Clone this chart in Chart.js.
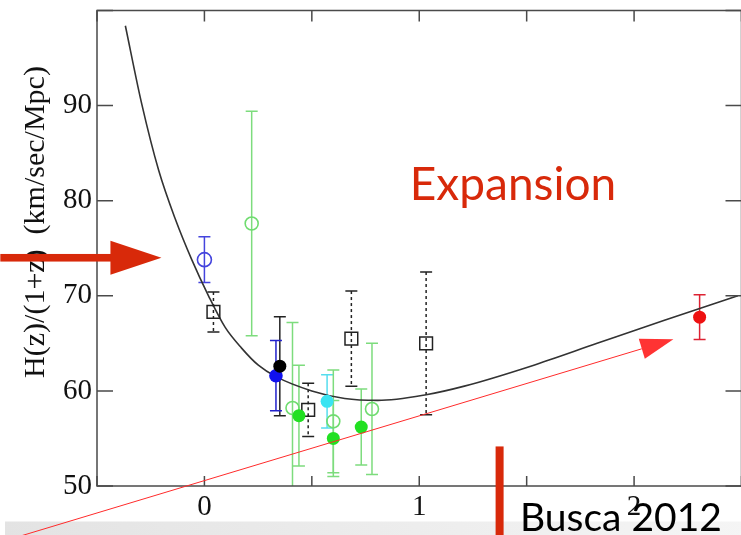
<!DOCTYPE html>
<html>
<head>
<meta charset="utf-8">
<script src="https://cdn.jsdelivr.net/npm/chart.js@4.4.0/dist/chart.umd.min.js"></script>
<style>
html, body { margin: 0; padding: 0; overflow: hidden; background: #fff; }
#wrap { width: 741px; height: 535px; overflow: hidden; }
</style>
</head>
<body>
<div id="wrap"><canvas id="hubbleChart" width="752" height="535"></canvas></div>
<script>
// Model curve H(z)/(1+z)
const curveZ = [-0.368, -0.291, -0.213, -0.136, -0.059, 0.019, 0.096, 0.173, 0.251, 0.333, 0.5, 0.653, 0.807, 1.032, 1.21, 1.519, 1.828, 2.138, 2.483];
const curveH = [98.4, 90.1, 83.2, 78.1, 73.8, 70.0, 66.7, 64.5, 62.7, 61.5, 60.0, 59.2, 59.0, 59.6, 60.5, 62.6, 65.0, 67.4, 70.0];

// Measurements: redshift, H(z)/(1+z), 1-sigma error
const openBlueZ = [0.0];
const openBlueH = [73.8];
const openBlueErr = [2.4];

const squareZ = [0.042, 0.483, 0.684, 1.032];
const squareH = [68.3, 58.0, 65.5, 65.0];
const squareErr = [2.1, 2.8, 5.0, 7.5];

const openGreenZ = [0.22, 0.41, 0.60, 0.78];
const openGreenH = [77.6, 58.2, 56.8, 58.1];
const openGreenErr = [11.8, 9.0, 5.4, 6.9];

const filledGreenZ = [0.44, 0.60, 0.73];
const filledGreenH = [57.4, 55.0, 56.2];
const filledGreenErr = [5.3, 4.0, 4.0];

const filledBlueZ = [0.333];
const filledBlueH = [61.6];
const filledBlueErr = [3.7];

const filledBlackZ = [0.351];
const filledBlackH = [62.6];
const filledBlackErr = [5.2];

const cyanZ = [0.571];
const cyanH = [58.9];
const cyanErr = [2.8];

const redZ = [2.305];
const redH = [67.75];
const redErr = [2.35];

// Axis ticks
const xTickStep = 0.5;
const yTicks = [50, 60, 70, 80, 90, 100];

function toPoints(zs, hs) {
    return zs.map((z, i) => ({ x: z, y: hs[i] }));
}

const serif = 'Liberation Serif';
const slideRed = '#d8290a';

// error bars drawn under the points, clipped to the plot
const errorBarPlugin = {
    id: 'errorBars',
    beforeDatasetsDraw(chart) {
        const { ctx, chartArea, scales: { x, y } } = chart;
        ctx.save();
        ctx.beginPath();
        ctx.rect(chartArea.left, chartArea.top, chartArea.right - chartArea.left, chartArea.bottom - chartArea.top);
        ctx.clip();
        chart.data.datasets.forEach(ds => {
            if (!ds.errors) return;
            ctx.strokeStyle = ds.errorColor;
            ctx.lineWidth = 1.5;
            ds.data.forEach((p, i) => {
                const px = x.getPixelForValue(p.x);
                const top = y.getPixelForValue(p.y + ds.errors[i]);
                const bot = y.getPixelForValue(p.y - ds.errors[i]);
                ctx.setLineDash(ds.errorDash || []);
                ctx.beginPath();
                ctx.moveTo(px, top);
                ctx.lineTo(px, bot);
                ctx.stroke();
                ctx.setLineDash([]);
                ctx.beginPath();
                ctx.moveTo(px - 6, top); ctx.lineTo(px + 6, top);
                ctx.moveTo(px - 6, bot); ctx.lineTo(px + 6, bot);
                ctx.stroke();
            });
        });
        ctx.restore();
    }
};

// frame with inward ticks on all four sides
const framePlugin = {
    id: 'frame',
    afterDatasetsDraw(chart) {
        const { ctx, chartArea: a, scales: { x, y } } = chart;
        ctx.save();
        ctx.strokeStyle = '#4a4a4a';
        ctx.lineWidth = 1.5;
        ctx.strokeRect(a.left, a.top, a.right - a.left, a.bottom - a.top);
        ctx.beginPath();
        x.ticks.forEach(t => {
            const px = x.getPixelForValue(t.value);
            ctx.moveTo(px, a.bottom); ctx.lineTo(px, a.bottom - 10);
            ctx.moveTo(px, a.top); ctx.lineTo(px, a.top + 11);
        });
        y.ticks.forEach(t => {
            const py = y.getPixelForValue(t.value);
            ctx.moveTo(a.left, py); ctx.lineTo(a.left + 16, py);
            ctx.moveTo(a.right, py); ctx.lineTo(a.right - 16, py);
        });
        ctx.stroke();
        ctx.restore();
    }
};

// slide decorations, placed in data units
const bigArrowTail = { x: -0.95, y: 74.0 };
const bigArrowTip = { x: -0.2, y: 74.0 };
const thinArrowTail = { x: -0.95, y: 44.1 };
const thinArrowTip = { x: 2.183, y: 65.43 };
const markerBar = { x: 1.374, y: 54.16 };
const expansionLabel = { x: 0.956, y: 80.1, text: 'Expansion' };
const creditLabel = { x: 1.469, y: 45.24, text: 'Busca 2012' };

const slidePlugin = {
    id: 'slide',
    beforeDraw(chart) {
        const { ctx, width, height } = chart;
        const g = ctx.createLinearGradient(0, 0, width, 0);
        g.addColorStop(0, '#e3e3e3');
        g.addColorStop(1, '#f5f5f5');
        ctx.save();
        ctx.fillStyle = '#fff';
        ctx.fillRect(0, 0, width, height);
        ctx.fillStyle = g;
        ctx.fillRect(5, height - 13.5, width, 13.5);
        ctx.restore();
    },
    afterDraw(chart) {
        const { ctx, height, scales: { x, y } } = chart;
        const px = p => x.getPixelForValue(p.x);
        const py = p => y.getPixelForValue(p.y);
        ctx.save();

        // thin red arrow
        const tx0 = px(thinArrowTail), ty0 = py(thinArrowTail);
        const tx1 = px(thinArrowTip), ty1 = py(thinArrowTip);
        const ang = Math.atan2(ty1 - ty0, tx1 - tx0);
        const headLen = 33, headHalf = 10.5;
        const bx = tx1 - headLen * Math.cos(ang), by = ty1 - headLen * Math.sin(ang);
        ctx.strokeStyle = '#ff2b2b';
        ctx.lineWidth = 1;
        ctx.beginPath();
        ctx.moveTo(tx0, ty0);
        ctx.lineTo(bx, by);
        ctx.stroke();
        ctx.fillStyle = '#ff3333';
        ctx.beginPath();
        ctx.moveTo(tx1, ty1);
        ctx.lineTo(bx - headHalf * Math.sin(ang), by + headHalf * Math.cos(ang));
        ctx.lineTo(bx + headHalf * Math.sin(ang), by - headHalf * Math.cos(ang));
        ctx.closePath();
        ctx.fill();

        // thick red arrow
        const ax0 = px(bigArrowTail), ax1 = px(bigArrowTip), ay = py(bigArrowTip);
        ctx.fillStyle = slideRed;
        ctx.fillRect(ax0, ay - 3.8, ax1 - 50 - ax0, 7.6);
        ctx.beginPath();
        ctx.moveTo(ax1, ay);
        ctx.lineTo(ax1 - 51, ay - 17);
        ctx.lineTo(ax1 - 51, ay + 17);
        ctx.closePath();
        ctx.fill();

        // vertical marker
        ctx.fillRect(px(markerBar) - 4, py(markerBar), 8, height - py(markerBar));

        // labels
        ctx.textBaseline = 'alphabetic';
        ctx.textAlign = 'left';
        ctx.font = '46px Lato';
        ctx.fillStyle = slideRed;
        ctx.fillText(expansionLabel.text, px(expansionLabel), py(expansionLabel));
        ctx.font = '39px Lato';
        ctx.fillStyle = '#000';
        ctx.fillText(creditLabel.text, px(creditLabel), py(creditLabel));
        ctx.restore();
    }
};

const ctx = document.getElementById('hubbleChart').getContext('2d');
const hubbleChart = new Chart(ctx, {
    type: 'scatter',
    data: {
        datasets: [
            {
                label: 'Lyman-alpha',
                data: toPoints(redZ, redH),
                errors: redErr,
                errorColor: '#dd2233',
                pointRadius: 6.5,
                backgroundColor: '#ee1111',
                borderColor: '#ee1111',
                borderWidth: 0
            },
            {
                label: 'cyan',
                data: toPoints(cyanZ, cyanH),
                errors: cyanErr,
                errorColor: '#55ddee',
                pointRadius: 6.5,
                backgroundColor: '#3ae4f2',
                borderColor: '#3ae4f2',
                borderWidth: 0
            },
            {
                label: 'black filled',
                data: toPoints(filledBlackZ, filledBlackH),
                errors: filledBlackErr,
                errorColor: '#222222',
                pointRadius: 6.5,
                backgroundColor: '#000000',
                borderColor: '#000000',
                borderWidth: 0
            },
            {
                label: 'blue filled',
                data: toPoints(filledBlueZ, filledBlueH),
                errors: filledBlueErr,
                errorColor: '#2222cc',
                pointRadius: 6.8,
                backgroundColor: '#1111ee',
                borderColor: '#1111ee',
                borderWidth: 0
            },
            {
                label: 'green filled',
                data: toPoints(filledGreenZ, filledGreenH),
                errors: filledGreenErr,
                errorColor: '#7ddc7d',
                pointRadius: 6.5,
                backgroundColor: '#22e022',
                borderColor: '#22e022',
                borderWidth: 0
            },
            {
                label: 'green open',
                data: toPoints(openGreenZ, openGreenH),
                errors: openGreenErr,
                errorColor: '#7ddc7d',
                pointRadius: 6.5,
                backgroundColor: 'rgba(0,0,0,0)',
                borderColor: '#6fdc6f',
                borderWidth: 1.6
            },
            {
                label: 'squares',
                data: toPoints(squareZ, squareH),
                errors: squareErr,
                errorColor: '#222222',
                errorDash: [3, 3],
                pointStyle: 'rect',
                pointRadius: 9,
                backgroundColor: 'rgba(0,0,0,0)',
                borderColor: '#222222',
                borderWidth: 1.5
            },
            {
                label: 'blue open',
                data: toPoints(openBlueZ, openBlueH),
                errors: openBlueErr,
                errorColor: '#4444dd',
                pointRadius: 7,
                backgroundColor: 'rgba(0,0,0,0)',
                borderColor: '#4444dd',
                borderWidth: 1.6
            },
            {
                label: 'model',
                data: toPoints(curveZ, curveH),
                showLine: true,
                borderColor: '#333333',
                borderWidth: 1.6,
                pointRadius: 0,
                cubicInterpolationMode: 'monotone',
                fill: false
            }
        ]
    },
    options: {
        responsive: false,
        animation: false,
        layout: { padding: { top: 5, right: 6, left: 0, bottom: 0 } },
        scales: {
            x: {
                type: 'linear',
                min: -0.5,
                max: 2.5,
                afterFit: s => { s.height = 49; s.paddingLeft = 0; s.paddingRight = 0; },
                grid: { display: false, drawTicks: false },
                border: { display: false },
                ticks: {
                    stepSize: xTickStep,
                    autoSkip: false,
                    maxRotation: 0,
                    padding: 4,
                    color: '#111',
                    font: { family: serif, size: 29 },
                    callback: v => Number.isInteger(v) ? v : ''
                }
            },
            y: {
                min: yTicks[0],
                max: yTicks[yTicks.length - 1],
                afterFit: s => { s.width = 97; s.paddingTop = 0; s.paddingBottom = 0; },
                afterBuildTicks: s => { s.ticks = yTicks.map(v => ({ value: v })); },
                grid: { display: false, drawTicks: false },
                border: { display: false },
                ticks: {
                    padding: 5,
                    color: '#111',
                    font: { family: serif, size: 29 },
                    callback: v => v === 100 ? '' : v
                },
                title: {
                    display: true,
                    text: '       H(z)/(1+z)  (km/sec/Mpc)',
                    color: '#111',
                    font: { family: serif, size: 30 },
                    padding: { top: 18, bottom: 0 }
                }
            }
        },
        plugins: {
            legend: { display: false },
            tooltip: { enabled: false }
        }
    },
    plugins: [slidePlugin, errorBarPlugin, framePlugin]
});
</script>
</body>
</html>
